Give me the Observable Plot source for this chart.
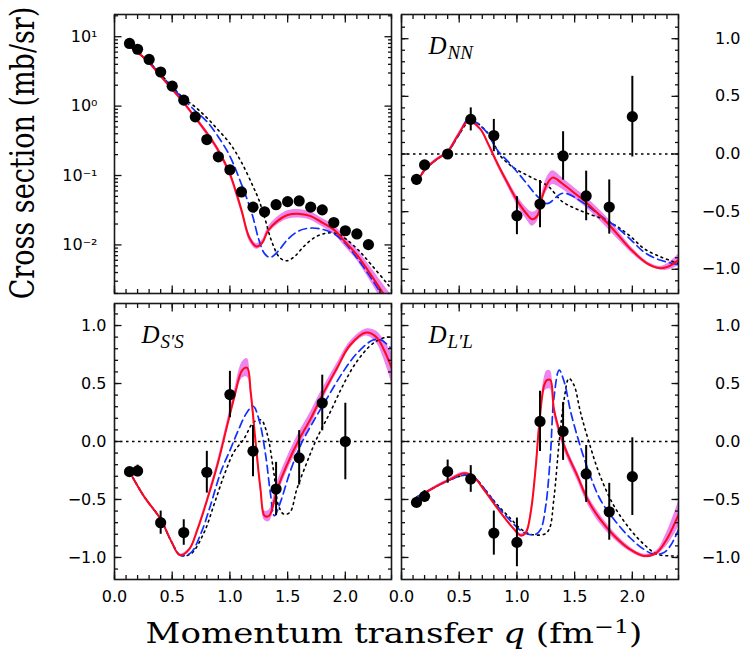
<!DOCTYPE html>
<html>
<head>
<meta charset="utf-8">
<script src="https://cdn.jsdelivr.net/npm/d3@7"></script>
<script src="https://cdn.jsdelivr.net/npm/@observablehq/plot@0.6"></script>
<style>
  body { margin: 0; background: #fff; }
  #chart { position: relative; width: 747px; height: 659px; overflow: hidden; background: #fff; }
  #chart svg { position: absolute; left: 0; top: 0; }
  .ttl { position: absolute; left: 0; top: 0; white-space: nowrap; font-family: "DejaVu Serif", serif; font-size: 27px; line-height: 27px; color: #000; transform-origin: 0 0; }
  .ttl sup { font-size: 0.7em; vertical-align: 0.55em; line-height: 0; }
</style>
</head>
<body>
<div id="chart"></div>
<script>
// ---------------- data ----------------
// common tick labels
const xTickLabels = [0, 0.5, 1, 1.5, 2];
const yTickLabels = [-1, -0.5, 0, 0.5, 1];
const logTickLabels = [0.01, 0.1, 1, 10];

// Cross section (mb/sr)
const csPtQ = [0.13, 0.2, 0.3, 0.4, 0.5, 0.6, 0.7, 0.8, 0.9, 1.0, 1.1, 1.2, 1.3, 1.4, 1.5, 1.6, 1.7, 1.8, 1.9, 2.0, 2.1, 2.2];
const csPtV = [8.0, 6.6, 4.7, 3.1, 1.94, 1.22, 0.70, 0.33, 0.186, 0.121, 0.058, 0.035, 0.030, 0.038, 0.042, 0.043, 0.035, 0.032, 0.021, 0.016, 0.0144, 0.0101];
const csRedQ = [0.13, 0.21, 0.3, 0.4, 0.5, 0.6, 0.7, 0.8, 0.9, 1.0, 1.05, 1.1, 1.17, 1.23, 1.28, 1.33, 1.41, 1.5, 1.61, 1.7, 1.8, 1.9, 2.0, 2.1, 2.2, 2.32, 2.42];
const csRedV = [7.3, 5.8, 4.2, 2.7, 1.74, 1.12, 0.68, 0.41, 0.23, 0.106, 0.06, 0.032, 0.0126, 0.0095, 0.0107, 0.016, 0.022, 0.027, 0.028, 0.026, 0.021, 0.0166, 0.011, 0.0072, 0.0042, 0.0021, 0.0012];
const csBand = [0.01, 0.01, 0.01, 0.015, 0.02, 0.025, 0.03, 0.035, 0.04, 0.045, 0.05, 0.05, 0.05, 0.04, 0.04, 0.05, 0.055, 0.06, 0.06, 0.06, 0.06, 0.065, 0.07, 0.08, 0.1, 0.13, 0.15];
const csBlueQ = [0.13, 0.3, 0.5, 0.6, 0.7, 0.8, 0.9, 1.0, 1.1, 1.15, 1.2, 1.25, 1.3, 1.35, 1.42, 1.5, 1.6, 1.7, 1.8, 1.9, 2.0, 2.1, 2.2, 2.3, 2.4];
const csBlueV = [7.3, 4.3, 1.85, 1.25, 0.85, 0.6, 0.36, 0.19, 0.075, 0.045, 0.025, 0.012, 0.0075, 0.0066, 0.0082, 0.012, 0.016, 0.0175, 0.0168, 0.0145, 0.0105, 0.0065, 0.0038, 0.0021, 0.0011];
const csDotQ = [0.13, 0.3, 0.5, 0.6, 0.7, 0.8, 0.9, 1.0, 1.1, 1.2, 1.25, 1.3, 1.36, 1.43, 1.49, 1.56, 1.64, 1.74, 1.84, 1.93, 2.01, 2.12, 2.22, 2.36, 2.45];
const csDotV = [7.3, 4.3, 1.9, 1.3, 0.97, 0.68, 0.45, 0.29, 0.155, 0.07, 0.045, 0.025, 0.0115, 0.0066, 0.0059, 0.0068, 0.0095, 0.013, 0.0148, 0.0145, 0.012, 0.0082, 0.0053, 0.0028, 0.0018];

// D_NN
const nnPtQ = [0.13, 0.2, 0.4, 0.6, 0.8, 1.0, 1.2, 1.4, 1.6, 1.8, 2.0];
const nnPtV = [-0.22, -0.095, 0.0, 0.30, 0.16, -0.535, -0.434, -0.017, -0.364, -0.46, 0.324];
const nnPtErr = [0.02, 0.02, 0.04, 0.1, 0.14, 0.165, 0.205, 0.21, 0.215, 0.235, 0.35];
const nnRedQ = [0.13, 0.2, 0.3, 0.4, 0.49, 0.58, 0.68, 0.75, 0.83, 0.92, 1.0, 1.08, 1.135, 1.18, 1.22, 1.265, 1.31, 1.39, 1.5, 1.6, 1.7, 1.8, 1.9, 2.0, 2.13, 2.24, 2.31, 2.4];
const nnRedV = [-0.26, -0.14, -0.05, 0.02, 0.165, 0.285, 0.22, 0.09, -0.08, -0.254, -0.40, -0.514, -0.566, -0.53, -0.37, -0.254, -0.205, -0.254, -0.34, -0.42, -0.514, -0.616, -0.73, -0.84, -0.95, -0.99, -0.977, -0.92];
const nnBand = [0.01, 0.01, 0.01, 0.01, 0.01, 0.015, 0.015, 0.02, 0.025, 0.03, 0.04, 0.05, 0.06, 0.05, 0.04, 0.06, 0.06, 0.05, 0.045, 0.045, 0.045, 0.045, 0.035, 0.025, 0.015, 0.015, 0.03, 0.05];
const nnBlueQ = [0.13, 0.2, 0.3, 0.4, 0.5, 0.58, 0.72, 0.83, 0.95, 1.06, 1.18, 1.26, 1.4, 1.57, 1.73, 1.84, 1.99, 2.1, 2.24, 2.4];
const nnBlueV = [-0.26, -0.14, -0.05, 0.02, 0.17, 0.30, 0.21, 0.035, -0.095, -0.225, -0.37, -0.43, -0.34, -0.42, -0.54, -0.616, -0.746, -0.85, -0.92, -0.96];
const nnDotQ = [0.13, 0.2, 0.3, 0.4, 0.5, 0.6, 0.75, 0.86, 0.98, 1.12, 1.27, 1.39, 1.5, 1.61, 1.76, 1.87, 1.99, 2.1, 2.24, 2.4];
const nnDotV = [-0.26, -0.14, -0.05, 0.02, 0.17, 0.29, 0.18, -0.02, -0.124, -0.2, -0.28, -0.41, -0.47, -0.515, -0.57, -0.63, -0.72, -0.82, -0.89, -0.95];

// D_S'S
const ssPtQ = [0.13, 0.2, 0.4, 0.6, 0.8, 1.0, 1.2, 1.4, 1.6, 1.8, 2.0];
const ssPtV = [-0.26, -0.254, -0.70, -0.785, -0.265, 0.405, -0.083, -0.41, -0.141, 0.332, 0.0];
const ssPtErr = [0.02, 0.05, 0.1, 0.11, 0.18, 0.2, 0.22, 0.23, 0.235, 0.24, 0.33];
const ssRedQ = [0.158, 0.26, 0.4, 0.49, 0.566, 0.647, 0.72, 0.805, 0.89, 0.977, 1.035, 1.107, 1.15, 1.18, 1.22, 1.265, 1.3, 1.34, 1.41, 1.49, 1.6, 1.7, 1.8, 1.926, 2.04, 2.18, 2.27, 2.33, 2.4];
const ssRedV = [-0.31, -0.48, -0.67, -0.857, -0.98, -0.93, -0.756, -0.496, -0.21, 0.14, 0.37, 0.615, 0.635, 0.43, 0.02, -0.41, -0.64, -0.64, -0.41, -0.21, 0.02, 0.197, 0.40, 0.63, 0.83, 0.94, 0.90, 0.80, 0.64];
const ssBand = [0.01, 0.01, 0.01, 0.01, 0.01, 0.01, 0.015, 0.02, 0.03, 0.04, 0.05, 0.07, 0.08, 0.05, 0.03, 0.03, 0.04, 0.05, 0.06, 0.06, 0.06, 0.06, 0.05, 0.04, 0.03, 0.03, 0.05, 0.08, 0.13];
const ssBlueQ = [0.158, 0.26, 0.4, 0.49, 0.57, 0.66, 0.75, 0.83, 0.92, 1.006, 1.078, 1.15, 1.2, 1.25, 1.31, 1.35, 1.385, 1.437, 1.52, 1.61, 1.72, 1.84, 1.98, 2.1, 2.24, 2.31, 2.4];
const ssBlueV = [-0.31, -0.48, -0.67, -0.857, -0.98, -0.96, -0.79, -0.556, -0.265, -0.063, 0.11, 0.255, 0.306, 0.197, -0.12, -0.44, -0.64, -0.525, -0.265, -0.037, 0.168, 0.37, 0.60, 0.76, 0.875, 0.875, 0.80];
const ssDotQ = [0.158, 0.26, 0.4, 0.49, 0.57, 0.66, 0.776, 0.86, 0.95, 1.035, 1.12, 1.207, 1.27, 1.32, 1.38, 1.42, 1.466, 1.52, 1.58, 1.667, 1.75, 1.87, 1.98, 2.1, 2.24, 2.36, 2.42];
const ssDotV = [-0.31, -0.48, -0.67, -0.857, -0.98, -0.97, -0.785, -0.55, -0.29, -0.09, 0.02, 0.168, 0.185, 0.075, -0.265, -0.55, -0.626, -0.61, -0.41, -0.18, 0.02, 0.255, 0.485, 0.69, 0.846, 0.90, 0.89];

// D_L'L
const llPtQ = [0.13, 0.2, 0.4, 0.6, 0.8, 1.0, 1.2, 1.4, 1.6, 1.8, 2.0];
const llPtV = [-0.525, -0.473, -0.26, -0.323, -0.79, -0.87, 0.173, 0.087, -0.28, -0.606, -0.303];
const llPtErr = [0.02, 0.05, 0.1, 0.115, 0.19, 0.21, 0.26, 0.25, 0.245, 0.245, 0.335];
const llRedQ = [0.13, 0.26, 0.4, 0.547, 0.63, 0.72, 0.834, 0.95, 1.035, 1.078, 1.12, 1.164, 1.19, 1.236, 1.26, 1.29, 1.32, 1.38, 1.437, 1.523, 1.61, 1.72, 1.84, 1.98, 2.1, 2.21, 2.3, 2.4];
const llRedV = [-0.496, -0.41, -0.337, -0.274, -0.31, -0.424, -0.58, -0.727, -0.81, -0.785, -0.61, -0.21, 0.11, 0.485, 0.53, 0.53, 0.283, 0.05, -0.107, -0.294, -0.496, -0.67, -0.81, -0.93, -0.987, -0.96, -0.84, -0.63];
const llBand = [0.01, 0.01, 0.01, 0.01, 0.01, 0.01, 0.01, 0.01, 0.015, 0.015, 0.02, 0.03, 0.04, 0.06, 0.08, 0.08, 0.05, 0.04, 0.04, 0.04, 0.04, 0.04, 0.03, 0.02, 0.015, 0.02, 0.06, 0.11];
const llBlueQ = [0.13, 0.26, 0.4, 0.55, 0.63, 0.72, 0.834, 0.95, 1.035, 1.095, 1.164, 1.207, 1.25, 1.29, 1.32, 1.366, 1.41, 1.466, 1.538, 1.624, 1.72, 1.84, 1.98, 2.1, 2.18, 2.27, 2.33, 2.4];
const llBlueV = [-0.48, -0.41, -0.34, -0.29, -0.31, -0.41, -0.56, -0.69, -0.77, -0.8, -0.8, -0.756, -0.554, -0.121, 0.37, 0.615, 0.514, 0.255, -0.005, -0.265, -0.496, -0.67, -0.83, -0.93, -0.97, -0.96, -0.9, -0.76];
const llDotQ = [0.13, 0.26, 0.4, 0.55, 0.63, 0.72, 0.834, 0.95, 1.035, 1.12, 1.236, 1.28, 1.32, 1.366, 1.41, 1.45, 1.495, 1.55, 1.624, 1.72, 1.84, 1.98, 2.1, 2.21, 2.33, 2.42];
const llDotV = [-0.48, -0.41, -0.34, -0.29, -0.31, -0.41, -0.55, -0.67, -0.756, -0.8, -0.8, -0.756, -0.496, -0.005, 0.37, 0.543, 0.485, 0.255, -0.005, -0.294, -0.554, -0.756, -0.886, -0.97, -0.987, -0.987];

// ---------------- helpers ----------------
const W = 747, H = 659;
const rows = (q, v, e) => q.map((x, i) => ({q: x, v: v[i], e: e ? e[i] : 0}));
const RED = "#ff0818", BLUE = "#1030ff", BAND = "#ee84ee";
const fmtLin = d => (d < 0 ? "\u2212" : "") + Math.abs(d).toFixed(1);
const supMap = {"-": "\u207B", "0": "\u2070", "1": "\u00B9", "2": "\u00B2", "3": "\u00B3"};
const fmtLog = d => "10" + String(Math.round(Math.log10(d))).split("").map(c => supMap[c]).join("");

const LOG_DOMAIN = [Math.pow(10, -2.7), Math.pow(10, 1.32)];
const xMinor = d3.range(0, 25).map(i => i / 10);
const linMinor = d3.range(-11, 12).map(i => i / 10);
const logMinor = d3.range(-3, 2).flatMap(k => d3.range(2, 10).map(m => m * Math.pow(10, k)))
  .filter(v => v > LOG_DOMAIN[0] && v < LOG_DOMAIN[1]);

// inward ticks: tick vectors pushed inside the frame by their own length
function tickMarks(k, anchor, values, size) {
  const o = {anchor, ticks: values, tickSize: size, fill: "none", label: null, stroke: "#111", strokeWidth: 1.3};
  if (anchor === "left") o.dx = size;
  if (anchor === "right") o.dx = -size;
  if (anchor === "top") o.dy = size;
  if (anchor === "bottom") o.dy = -size;
  return k === "x" ? Plot.axisX(o) : Plot.axisY(o);
}

function panel(cfg) {
  const [l, t, r, b] = cfg.frame;
  const log = cfg.log;
  const red = rows(cfg.redQ, cfg.redV, cfg.band);
  const marks = [];
  if (!log) marks.push(Plot.ruleY([0], {stroke: "#000", strokeWidth: 1.5, strokeDasharray: "2.5,3.5"}));
  marks.push(Plot.areaY(red, {
    x: "q",
    y1: d => log ? d.v * Math.pow(10, -d.e) : d.v - d.e,
    y2: d => log ? d.v * Math.pow(10, d.e) : d.v + d.e,
    fill: BAND, curve: "catmull-rom", clip: true
  }));
  marks.push(Plot.line(rows(cfg.dotQ, cfg.dotV), {x: "q", y: "v", stroke: "#000", strokeWidth: 1.6, strokeDasharray: "1.8,4", curve: "catmull-rom", clip: true}));
  marks.push(Plot.line(rows(cfg.blueQ, cfg.blueV), {x: "q", y: "v", stroke: BLUE, strokeWidth: 1.7, strokeDasharray: "8,4.5", curve: "catmull-rom", clip: true}));
  marks.push(Plot.line(red, {x: "q", y: "v", stroke: RED, strokeWidth: 2, curve: "catmull-rom", clip: true}));
  const pts = rows(cfg.ptQ, cfg.ptV, cfg.ptErr);
  if (cfg.ptErr) marks.push(Plot.ruleX(pts, {x: "q", y1: d => d.v - d.e, y2: d => d.v + d.e, stroke: "#000", strokeWidth: 2}));
  marks.push(Plot.dot(pts, {x: "q", y: "v", r: 5.6, fill: "#000"}));
  // panel label
  if (cfg.label) {
    marks.push(Plot.text([cfg.label], {frameAnchor: "top-left", text: d => "D", dx: 27, dy: 39, textAnchor: "start", lineAnchor: "bottom", fontFamily: "Liberation Serif", fontStyle: "italic", fontSize: 25, fill: "#000"}));
    marks.push(Plot.text([cfg.label], {frameAnchor: "top-left", text: d => d, dx: 46, dy: 44, textAnchor: "start", lineAnchor: "bottom", fontFamily: "Liberation Serif", fontStyle: "italic", fontSize: 19, letterSpacing: 1, fill: "#000"}));
  }
  // frame and inward ticks
  marks.push(Plot.frame({stroke: "#1a1a1a", strokeWidth: 1.6}));
  for (const a of ["top", "bottom"]) {
    marks.push(tickMarks("x", a, xMinor, 4));
    marks.push(tickMarks("x", a, xTickLabels, 7.5));
  }
  for (const a of ["left", "right"]) {
    marks.push(tickMarks("y", a, log ? logMinor : linMinor, 4));
    marks.push(tickMarks("y", a, log ? logTickLabels : yTickLabels, 7.5));
  }
  // tick labels
  if (cfg.xLabels) marks.push(Plot.axisX({anchor: "bottom", ticks: xTickLabels, tickSize: 0, tickPadding: 11, tickFormat: d => d.toFixed(1), label: null, fill: "#000"}));
  if (log) marks.push(Plot.axisY({anchor: "left", ticks: logTickLabels, tickSize: 0, tickPadding: 17, tickFormat: fmtLog, label: null, fill: "#000"}));
  else if (cfg.ySide === "left") marks.push(Plot.axisY({anchor: "left", ticks: yTickLabels, tickSize: 0, tickPadding: 8, tickFormat: fmtLin, label: null, fill: "#000"}));
  else marks.push(Plot.axisY({anchor: "right", ticks: yTickLabels, tickSize: 0, tickPadding: 62, textAnchor: "end", tickFormat: fmtLin, label: null, fill: "#000"}));

  return Plot.plot({
    width: W, height: H,
    marginLeft: l, marginRight: W - r, marginTop: t, marginBottom: H - b,
    x: {domain: [0, 2.4], axis: null},
    y: log ? {type: "log", domain: LOG_DOMAIN, axis: null} : {domain: cfg.yDomain, axis: null},
    style: {background: "transparent", fontFamily: "DejaVu Sans", fontSize: "16px", color: "#000", overflow: "visible"},
    marks
  });
}

const chart = document.getElementById("chart");
chart.append(panel({frame: [114, 14, 391, 293], log: true,
  ptQ: csPtQ, ptV: csPtV, redQ: csRedQ, redV: csRedV, band: csBand,
  blueQ: csBlueQ, blueV: csBlueV, dotQ: csDotQ, dotV: csDotV}));
chart.append(panel({frame: [401, 14, 678, 293], yDomain: [-1.21, 1.21], ySide: "right", label: "NN",
  ptQ: nnPtQ, ptV: nnPtV, ptErr: nnPtErr, redQ: nnRedQ, redV: nnRedV, band: nnBand,
  blueQ: nnBlueQ, blueV: nnBlueV, dotQ: nnDotQ, dotV: nnDotV}));
chart.append(panel({frame: [114, 303, 391, 579], yDomain: [-1.19, 1.19], ySide: "left", label: "S\u2032S", xLabels: true,
  ptQ: ssPtQ, ptV: ssPtV, ptErr: ssPtErr, redQ: ssRedQ, redV: ssRedV, band: ssBand,
  blueQ: ssBlueQ, blueV: ssBlueV, dotQ: ssDotQ, dotV: ssDotV}));
chart.append(panel({frame: [401, 303, 678, 579], yDomain: [-1.19, 1.19], ySide: "right", label: "L\u2032L", xLabels: true,
  ptQ: llPtQ, ptV: llPtV, ptErr: llPtErr, redQ: llRedQ, redV: llRedV, band: llBand,
  blueQ: llBlueQ, blueV: llBlueV, dotQ: llDotQ, dotV: llDotV}));

// axis titles
const xt = document.createElement("div");
xt.className = "ttl";
xt.innerHTML = "Momentum transfer <i>q</i> (fm<sup>\u22121</sup>)";
xt.style.transform = "translate(394px, 643px) scaleX(1.26) translate(-50%, -22.8px)";
chart.append(xt);
const yt = document.createElement("div");
yt.className = "ttl";
yt.textContent = "Cross section (mb/sr)";
yt.style.transform = "translate(34px, 153px) rotate(-90deg) scaleY(1.25) translate(-50%, -22.8px)";
chart.append(yt);
</script>
</body>
</html>
